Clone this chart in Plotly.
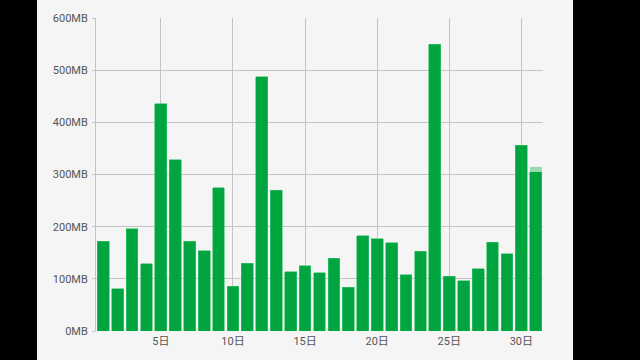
import plotly.graph_objects as go

days = list(range(1, 32))
usage_mb = [172, 81, 196, 129, 436, 328, 172, 154, 275, 86,
            130, 487, 270, 114, 125, 112, 139, 84, 183, 177,
            169, 108, 153, 550, 105, 96, 119, 170, 148, 356, 305]
extra_mb = [0] * 30 + [9]

y_tick_vals = [0, 100, 200, 300, 400, 500, 600]
y_tick_text = ["0MB", "100MB", "200MB", "300MB", "400MB", "500MB", "600MB"]
x_tick_vals = [5, 10, 15, 20, 25, 30]
x_tick_text = ["5日", "10日", "15日", "20日", "25日", "30日"]

L, R, T, B = 96, 97, 15, 29
W, H = 640, 360
pw = W - L - R

fig = go.Figure()
fig.add_bar(x=days, y=usage_mb, width=0.82,
            marker=dict(color="#00a53f", line=dict(color="#3cc46a", width=0.6)))
fig.add_bar(x=days, y=extra_mb, width=0.82,
            marker=dict(color="#9bd8ad", line=dict(width=0)))

gray = "#c4c4c4"
fig.update_layout(
    width=W, height=H, barmode="stack", showlegend=False,
    margin=dict(l=L, r=R, t=T, b=B, pad=0),
    paper_bgcolor="#f5f5f5", plot_bgcolor="#f5f5f5",
    font=dict(family="Roboto, Noto Sans CJK JP, sans-serif", size=11, color="#555555"),
    bargap=0.2,
    shapes=[
        dict(type="rect", xref="paper", yref="paper", layer="above",
             x0=-1, x1=(37 - L) / pw, y0=-1, y1=2,
             fillcolor="black", line=dict(width=0)),
        dict(type="rect", xref="paper", yref="paper", layer="above",
             x0=(573 - L) / pw, x1=2, y0=-1, y1=2,
             fillcolor="black", line=dict(width=0)),
    ],
)
fig.update_xaxes(range=[0.5, 31.5], tickvals=x_tick_vals, ticktext=x_tick_text,
                 showgrid=True, gridcolor=gray, gridwidth=1, zeroline=False,
                 showline=False, ticks="", ticklabelstandoff=2)
fig.update_yaxes(range=[0, 600], tickvals=y_tick_vals, ticktext=y_tick_text,
                 showgrid=True, gridcolor=gray, gridwidth=1, zeroline=False,
                 showline=True, linecolor=gray, linewidth=1,
                 ticks="outside", ticklen=3, tickcolor=gray, ticklabelstandoff=2)

fig.write_html("out.html", config={"displayModeBar": False},
               post_script="document.body.style.margin='0';document.body.style.background='black';")
